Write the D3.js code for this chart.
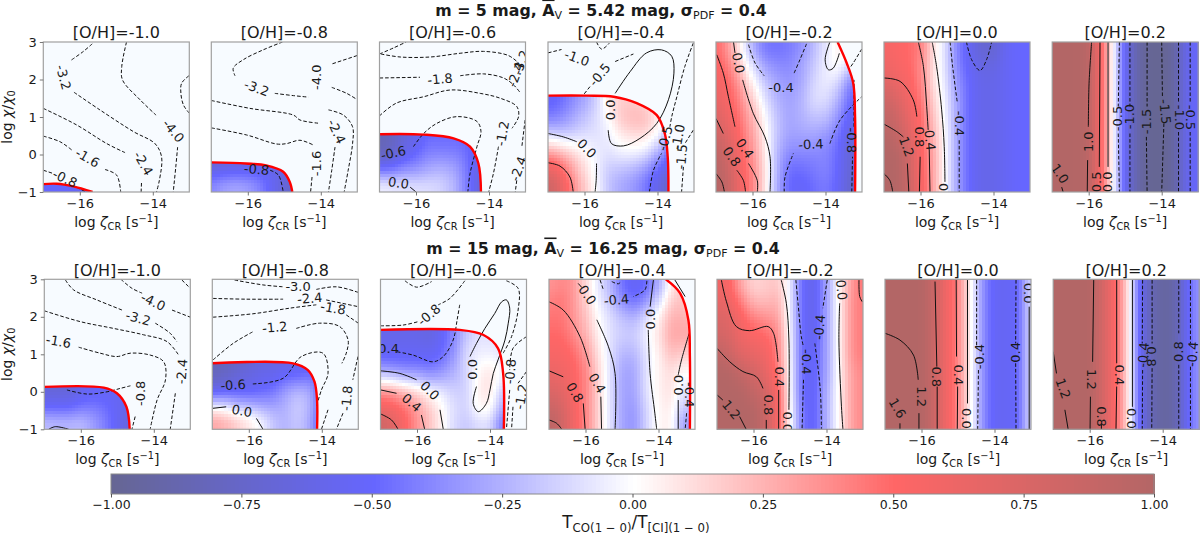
<!DOCTYPE html>
<html><head><meta charset="utf-8">
<script src="https://d3js.org/d3.v7.min.js"></script>
<style>html,body{margin:0;padding:0;background:#fff}svg{display:block}text{font-family:"DejaVu Sans",sans-serif;fill:#1a1a1a}</style>
</head><body><svg id="c" width="1200" height="535"></svg>
<script>
const _=null;
// Axis values
const xDomain=[-17,-13], yDomain=[-1,3];
const xTicks=[-16,-14], yTicks=[-1,0,1,2,3];
const barTicks=[-1,-0.75,-0.5,-0.25,0,0.25,0.5,0.75,1];
const metallicity=["-1.0","-0.8","-0.6","-0.4","-0.2","0.0","0.2"];
// Ratio fields: rows y=3..-1 (step .5), columns x=-17..-13 (step 1/3)
const f5_m10=[[],[],[],[],[],[],[],[],[-.5,-.5,-.5,-.55,-.6,-.6]];
const f5_m08=[[],[],[],[],[],[],
[-.85,-.8,-.75,-.75,-.75,-.75,-.75,-.8],
[-.55,-.5,-.5,-.5,-.5,-.55,-.6,-.7],
[-.3,-.2,-.15,-.2,-.35,-.55,-.75,-.8]];
const f5_m06=[[],[],[],[],[],
[-.85,-.8,-.7,-.6,-.5,-.5,-.5,-.5,-.55,-.6],
[-.85,-.75,-.6,-.5,-.4,-.4,-.4,-.45,-.6,-.7],
[-.35,-.35,-.3,-.3,-.25,-.2,-.25,-.4,-.6,-.8,-.9],
[.15,.1,.05,.02,-.02,-.1,-.2,-.4,-.6,-.8,-.95]];
const f5_m04=[[],[],[],
[-.55,-.5,-.4,-.3,-.15,.1,.15,.15,.1,0,-.1],
[-.45,-.4,-.3,-.2,-.1,0,.2,.25,.25,.1,-.1],
[-.1,-.15,-.15,-.1,-.1,-.05,.05,.1,.1,0,-.35,-.5],
[.4,.3,.18,.05,-.05,-.1,-.05,-.05,-.1,-.3,-.5,-.6],
[.75,.6,.35,.12,-.05,-.2,-.25,-.3,-.4,-.55,-.7,-.8],
[.95,.75,.45,.2,0,-.2,-.3,-.35,-.45,-.65,-.85,-.9]];
const f5_m02=[
[.5,.3,0,-.35,-.5,-.5,-.45,-.4,-.25,-.1,.05,.05],
[.55,.4,.15,-.15,-.35,-.4,-.4,-.3,-.2,-.05,.05,-.05],
[.6,.5,.3,0,-.2,-.3,-.35,-.3,-.15,-.05,-.1,-.4],
[.65,.55,.4,.15,-.1,-.25,-.3,-.25,-.1,-.1,-.25,-.5],
[.75,.6,.45,.25,0,-.2,-.3,-.25,-.2,-.2,-.35,-.55],
[.85,.7,.5,.3,.05,-.2,-.3,-.3,-.3,-.35,-.45,-.65],
[.95,.8,.55,.35,.08,-.25,-.4,-.4,-.4,-.4,-.5,-.7],
[1,.85,.6,.4,.1,-.25,-.5,-.5,-.45,-.4,-.5,-.7],
[1,.9,.6,.4,.08,-.3,-.5,-.55,-.5,-.45,-.55,-.75]];
const f5_00=[
[.55,.52,.5,.45,.1,-.1,-.4,-.55,-.75,-.75,-.55,-.5,-.5],
[.6,.55,.5,.4,.1,-.1,-.4,-.55,-.65,-.65,-.55,-.5,-.5],
[.7,.6,.55,.4,.1,-.08,-.35,-.5,-.6,-.6,-.55,-.5,-.5],
[.85,.75,.6,.45,.15,-.05,-.3,-.5,-.6,-.6,-.55,-.5,-.5],
[.9,.85,.65,.5,.2,-.03,-.3,-.5,-.6,-.6,-.55,-.5,-.5],
[1,.9,.75,.5,.25,0,-.3,-.5,-.6,-.6,-.55,-.5,-.5],
[1,1,.85,.55,.3,0,-.3,-.5,-.6,-.6,-.55,-.5,-.5],
[1,1,.85,.55,.3,0,-.3,-.5,-.6,-.6,-.55,-.5,-.5],
[1,1,.9,.6,.3,0,-.3,-.5,-.6,-.6,-.55,-.5,-.5]];
const f5_02=[
[1,1,1,.95,.55,0,-.55,-.9,-1,-1,-.95,-.6,-.5],
[1,1,1,.95,.55,0,-.55,-.9,-1,-1,-.95,-.6,-.5],
[1,1,1,.95,.55,0,-.55,-.9,-1,-1,-.95,-.6,-.5],
[1,1,1,.95,.55,0,-.55,-.9,-1,-1,-.95,-.6,-.5],
[1,1,1,.95,.55,0,-.55,-.9,-1,-1,-.95,-.6,-.5],
[1,1,1,.95,.55,0,-.55,-.9,-1,-1,-.95,-.6,-.5],
[1,1,1,.95,.55,0,-.55,-.9,-1,-1,-.95,-.6,-.5],
[1,1,1,.95,.55,0,-.55,-.9,-1,-1,-.95,-.6,-.5],
[1,1,1,.95,.55,0,-.55,-.9,-1,-1,-.95,-.6,-.5]];
const f15_m10=[[],[],[],[],[],[],
[-.7,-.7,-.7,-.6,-.55,-.55,-.55,-.6],
[-.45,-.45,-.45,-.4,-.4,-.45,-.55,-.6],
[-.05,-.1,-.1,-.1,-.25,-.4,-.55,-.7]];
const f15_m08=[[],[],[],[],
[-.85,-.85,-.8,-.75,-.7,-.65,-.65,-.65,-.6,-.55],
[-.85,-.8,-.7,-.65,-.6,-.6,-.55,-.55,-.5,-.55],
[-.6,-.55,-.55,-.55,-.5,-.45,-.3,-.2,-.25,-.55],
[.15,.1,-.05,-.1,-.2,-.25,-.25,-.15,-.25,-.55],
[.4,.35,.3,.2,.1,-.15,-.25,-.2,-.3,-.65]];
const f15_m06=[[],[],[],
[-.6,-.6,-.6,-.6,-.65,-.55,-.4,-.2,-.1,-.1],
[-.55,-.55,-.55,-.55,-.55,-.5,-.35,-.1,-.05,-.05,-.1],
[-.25,-.3,-.35,-.35,-.4,-.35,-.25,-.15,.03,.1,0],
[.4,.35,.25,.15,.02,-.05,-.15,-.15,.05,.1,-.2],
[.65,.6,.5,.35,.2,.05,-.1,-.15,.02,.02,-.3],
[1,.75,.55,.35,.2,.05,-.15,-.2,-.2,-.2,-.55]];
const f15_m04=[
[.3,.35,.35,.1,-.1,-.25,-.5,-.6,-.55,-.35,0,.2],
[.4,.45,.35,.15,-.05,-.2,-.4,-.5,-.4,-.15,.15,.2,0],
[.45,.45,.35,.2,0,-.1,-.2,-.25,-.1,.05,.25,.25],
[.5,.5,.4,.25,.05,-.1,-.15,-.15,-.05,.1,.3,.3],
[.55,.55,.5,.35,.1,-.1,-.25,-.25,-.1,.05,.2,.15],
[.65,.6,.55,.4,.15,-.1,-.3,-.3,-.1,.05,.1,0],
[.75,.7,.55,.4,.15,-.1,-.3,-.3,-.1,.05,.1,-.1],
[.9,.8,.6,.4,.15,-.1,-.3,-.35,-.15,.03,.05,-.2],
[1,.85,.6,.4,.15,-.1,-.3,-.35,-.15,.03,.05,-.4]];
const f15_m02=[
[.6,.5,.2,.1,.15,.15,-.05,-.5,-.6,-.3,.02,.3,.5],
[.65,.6,.4,.2,.2,.25,-.05,-.5,-.6,-.3,.03,.35,.45],
[.75,.7,.55,.4,.35,.3,-.05,-.5,-.6,-.3,.03,.35,.45],
[.8,.75,.6,.55,.5,.4,-.02,-.5,-.6,-.3,.03,.35,.45],
[.95,.85,.7,.65,.6,.4,-.02,-.5,-.55,-.3,.03,.35,.45],
[1,1,.9,.8,.65,.45,0,-.5,-.55,-.3,.03,.3,.4],
[1,1,1,.9,.8,.55,0,-.5,-.55,-.25,.03,.3,.4],
[1,1,1,1,.85,.55,.02,-.45,-.55,-.25,.03,.3,.4],
[1,1,1,1,.85,.55,.02,-.45,-.55,-.25,.03,.3,.4]];
const f15_00=[
[1,1,1,1,.85,.6,.4,.05,-.35,-.55,-.55,-.5,-.05],
[1,1,1,1,.85,.6,.4,.05,-.35,-.55,-.55,-.5,-.05],
[1,1,1,1,.85,.6,.4,.05,-.35,-.55,-.55,-.5,-.05],
[1,1,1,1,.85,.6,.4,.05,-.35,-.55,-.55,-.5,-.05],
[1,1,1,1,.85,.6,.4,.05,-.35,-.55,-.55,-.5,-.05],
[1,1,1,1,.85,.6,.4,.05,-.35,-.55,-.55,-.5,-.05],
[1,1,1,1,.85,.6,.4,.05,-.35,-.55,-.55,-.5,-.05],
[1,1,1,1,.85,.6,.4,.05,-.35,-.55,-.55,-.5,-.05],
[1,1,1,1,.85,.6,.4,.05,-.35,-.55,-.55,-.5,-.05]];
const f15_02=[
[1,1,1,1,.8,.55,.2,-.45,-.85,-.95,-.9,-.55,-.3],
[1,1,1,1,.8,.55,.2,-.45,-.85,-.95,-.9,-.55,-.3],
[1,1,1,1,.8,.55,.2,-.45,-.85,-.95,-.9,-.55,-.3],
[1,1,1,1,.8,.55,.2,-.45,-.85,-.95,-.9,-.55,-.3],
[1,1,1,1,.8,.55,.2,-.45,-.85,-.95,-.9,-.55,-.3],
[1,1,1,1,.8,.55,.2,-.45,-.85,-.95,-.9,-.55,-.3],
[1,1,1,1,.8,.55,.2,-.45,-.85,-.95,-.9,-.55,-.3],
[1,1,1,1,.8,.55,.2,-.45,-.85,-.95,-.9,-.55,-.3],
[1,1,1,1,.8,.55,.2,-.45,-.85,-.95,-.9,-.55,-.3]];
// Red boundary curves (log zeta, log chi pairs)
const r5_m10=[-17,-.79,-16.63,-.78,-16.18,-.85,-15.65,-1];
const r5_m08=[-17,-.21,-16.05,-.24,-15.5,-.29,-15.03,-.46,-14.85,-.73,-14.78,-1];
const r5_m06=[-17,.54,-15.79,.53,-14.97,.43,-14.52,.21,-14.29,-.24,-14.22,-1];
const r5_m04=[-17,1.57,-15.94,1.57,-15.2,1.54,-14.57,1.37,-14.02,1.05,-13.8,.56,-13.72,-.06,-13.7,-1];
const r5_m02=[-13.67,3,-13.42,2.44,-13.24,1.9,-13.19,1.01,-13.19,-1];
const r15_m10=[-17,.13,-15.37,.11,-15.01,-.04,-14.75,-.4,-14.66,-1];
const r15_m08=[-17,.76,-14.79,.76,-14.38,.58,-14.2,.27,-14.13,-.22,-14.13,-1];
const r15_m06=[-17,1.65,-14.83,1.65,-14.19,1.52,-13.78,1.16,-13.64,.49,-13.62,-1];
const r15_m04=[-13.8,3,-13.41,2.63,-13.18,1.91,-13.14,.94,-13.14,-1];
// Contours: [level, flat x,y list]
const c5_m10=[[-3.2,[-15.66,2.95,-15.9,2.75,-16.23,2.52]],[-3.2,[-16.16,1.66,-15.45,1.19,-14.53,.61,-13.94,.29,-13.76,-.06,-13.82,-.69,-13.9,-1]],[-4,[-14.72,3,-14.85,2.35,-14.83,1.99,-14.35,1.46,-13.91,1.05]],[-4,[-13.32,.2,-13.37,-.33,-13.44,-1]],[-4,[-13.01,2.1,-13.21,1.9,-13.23,1.63,-13.16,1.32,-13,1.1]],[-2.4,[-17,1.23,-16.09,.79,-15.26,.29,-14.76,.05]],[-2.4,[-14.31,-.76,-14.32,-1]],[-1.6,[-17,.49,-16.54,.34,-16.22,.12]],[-1.6,[-15.31,-.4,-14.99,-.55,-14.88,-1]],[-.8,[-17,-.42,-16.75,-.5]],[-.8,[-16.09,-.87,-15.83,-1]]];
const c5_m08=[[-3.2,[-15.05,3,-15.58,2.79,-16.12,2.53,-16.4,2.3,-16.35,2.1]],[-3.2,[-15.26,1.63,-14.75,1.57,-14.34,1.53]],[-4,[-13.68,2.42,-13,2.64]],[-4,[-13.7,1.79,-13.29,1.63,-13,1.46]],[-2.4,[-17,1.44,-15.94,1.23,-14.75,1.05,-14.57,.92,-14.02,.83]],[-2.4,[-13.79,1.19,-13.38,1.05,-13.13,.74,-13.13,.29,-13.25,-.42,-13.36,-1]],[-1.6,[-17,.71,-16.03,.52,-15.21,.28,-14.94,.29,-14.57,.38,-14.2,.25]],[-1.6,[-14.24,-.6,-14.28,-1]],[-2.4,[-13.61,.2,-13.7,-.42,-13.79,-1]],[-.8,[-15.39,-.42,-15.16,-.55,-15.03,-1]]];
const c5_m06=[[-3.2,[-17,2.68,-16.62,2.84,-16.27,3]],[-2.4,[-16.96,2.68,-16.43,2.6,-15.61,2.6,-14.79,2.7,-14.15,2.75,-13.47,2.64,-13.19,2.44]],[-1.8,[-17,2.04,-15.89,2.06]],[-1.8,[-14.79,2.1,-14.15,2.15,-13.6,2.04,-13.33,1.86,-13.13,1.63]],[-1.2,[-17,1.03,-16.54,1.37,-15.79,1.54,-15.06,1.72,-14.24,1.63,-13.69,1.5,-13.24,1.28,-13.19,1.01,-13.37,.7]],[-1.2,[-13.74,.21,-13.88,-.51,-14.01,-1]],[-.6,[-16.07,.21,-15.79,.56,-15.43,.83,-14.88,1.01,-14.33,.88,-14.22,.61,-14.33,.21,-14.52,-.51,-14.58,-1]],[-2.4,[-13.24,-.69,-13.28,-1]],[-2.4,[-13.01,.92,-13.1,.21]],[0,[-16.16,-.87,-16,-1]]];
const c5_m04=[[0,[-15.16,1.63,-14.75,2.21,-14.3,2.71,-13.89,2.79,-13.61,2.62,-13.55,2.17,-13.7,1.46,-14.02,.83,-14.48,.43,-14.93,.23,-15.26,.29,-15.35,.65]],[0,[-17,.56,-16.58,.47,-16.21,.34]],[0,[-15.67,-.24,-15.68,-.69,-15.71,-1]],[.4,[-17,-.22,-16.67,-.31,-16.4,-.6,-16.31,-1]],[-1,[-17,2.71,-16.63,2.8]],[-1,[-15.67,3,-15.53,2.81,-15.32,2.97]],[-.5,[-15.16,2.48,-14.66,2.68]],[-.5,[-15.85,1.81,-16.03,1.59]],[-1,[-13.02,2.97,-13.25,2.35,-13.47,1.54,-13.61,1.01,-13.66,.74]],[-1.5,[-13.02,.65,-13.25,.29]],[-1.5,[-13.29,-.33,-13.34,-1]],[-.5,[-14.22,-1,-14.11,-.42,-13.89,.03]]];
const c5_m02=[[0,[-16.52,3,-16.48,2.71]],[0,[-16.27,1.99,-15.98,1.1,-15.66,.47,-15.52,-.06,-15.52,-1]],[.4,[-16.98,2.66,-16.8,2.17,-16.66,1.54,-16.48,.74]],[.4,[-16.11,-.24,-15.87,-.69,-15.87,-1]],[.8,[-17,.96,-16.8,.56]],[.8,[-16.43,-.42,-16.25,-.69,-16.19,-1]],[1.2,[-17,-.51,-16.84,-.73,-16.77,-1]],[0,[-13.88,3,-14.01,2.53,-13.92,2.26,-13.79,2.3,-13.62,2.7]],[-.4,[-16.11,2.93,-15.93,2.44,-15.68,2.1]],[-.4,[-14.52,2.95,-14.7,2.53,-14.86,2.17]],[-.4,[-15.13,-1,-15.11,-.6,-14.88,.03]],[-.4,[-13.88,.29,-13.6,.92,-13.01,1.54]],[-.4,[-13.01,2.81,-13.24,2.44,-13.37,2.26]],[-.8,[-13.28,-1,-13.26,-.06]],[-.8,[-13.22,.74,-13.22,1.99]]];
const c5_00=[[0,[-15.68,3,-15.56,2.35,-15.42,1.19,-15.35,.21,-15.33,-.73]],[.4,[-16.06,3,-15.92,2.35,-15.83,1.28,-15.79,.65]],[.4,[-15.76,.12,-15.74,-1]],[.8,[-17,2.04,-16.56,1.95,-16.2,1.46,-16.1,1.01]],[.8,[-16.01,-.06,-16.03,-1]],[1.2,[-17,.81,-16.65,.61,-16.47,.47]],[1.2,[-16.36,-.24,-16.32,-1]],[1.6,[-17,-.51,-16.84,-.69,-16.76,-1]],[-.4,[-15.19,3,-15.12,2.35,-14.99,1.37]],[-.4,[-14.94,.38,-14.94,-1]],[-.8,[-14.74,3,-14.6,2.53,-14.37,2.24,-14.19,2.53,-14.05,3]]];
const c5_02=[[1,[-15.92,3,-15.99,1.9,-16.01,.74]],[1,[-16.03,-.15,-16.04,-1]],[.5,[-15.69,3,-15.71,-.33]],[0,[-15.47,3,-15.47,-.33]],[1,[-16.74,-.87,-16.7,-1]],[-.5,[-15.16,3,-15.19,1.28]],[-.5,[-15.19,.56,-15.16,-1]],[-1,[-14.87,3,-14.87,1.28]],[-1,[-14.87,.56,-14.87,-1]],[-1.5,[-14.4,3,-14.4,1.28]],[-1.5,[-14.42,.47,-14.4,-1]],[-1.5,[-14,3,-13.98,1.54]],[-1.5,[-13.94,.83,-14,-1]],[-1,[-13.54,3,-13.54,1.4]],[-1,[-13.54,.6,-13.54,-1]],[-.5,[-13.22,3,-13.22,1.4]],[-.5,[-13.22,.6,-13.22,-1]]];
const c15_m10=[[-4,[-14.9,3,-14.6,2.76,-14.32,2.63]],[-4,[-13.5,2.18,-13,1.99]],[-4,[-13.23,2.98,-13,2.76]],[-3.2,[-16.42,2.98,-16.2,2.72,-15.56,2.45,-14.87,2.18]],[-3.2,[-13.96,1.83,-13.55,1.56,-13.37,1.34]],[-2.4,[-17,2.16,-16.01,1.87,-15.1,1.69,-14.28,1.52,-13.64,1.34,-13.32,.98]],[-2.4,[-13.41,-.04,-13.55,-1]],[-1.6,[-16.06,1.19,-15.47,1.03,-15.01,.94,-14.64,1.03,-14.1,.98,-13.73,.8,-13.68,.32,-13.91,-.22,-14.1,-1]],[-.8,[-16.38,.05,-15.83,-.06,-15.28,0,-14.92,.09,-14.64,.16]],[-.8,[-14.51,-.66,-14.6,-1]],[0,[-16.88,-1,-16.7,-.93,-16.33,-1]]];
const c15_m08=[[-3,[-16.39,2.98,-15.61,2.85,-15.06,2.8]],[-3,[-14.15,2.73,-13.6,2.8,-13,2.65]],[-2.4,[-16.98,2.49,-16.07,2.47,-15.06,2.47]],[-2.4,[-13.88,2.45,-13,2.27]],[-1.8,[-16.98,1.99,-15.89,2.08,-14.88,2.23,-14.15,2.32]],[-1.8,[-13.33,2.05,-13,1.83]],[-1.2,[-16.98,.85,-16.43,1.29,-15.89,1.6]],[-1.2,[-14.7,1.69,-14.06,1.83,-13.51,1.74,-13.28,1.38,-13.33,1.03,-13.45,.76]],[-1.8,[-13.01,.94,-13.15,.32]],[-1.8,[-13.42,-.57,-13.6,-1]],[-.6,[-15.89,.21,-15.06,.36,-14.56,.94,-13.97,1.03,-13.83,.49,-14.01,.05,-14.15,-.4]],[0,[-16.98,-.44,-16.62,-.4]],[0,[-15.79,-.71,-15.61,-1]],[-1.2,[-13.83,-.48,-14.01,-1]]];
const c15_m06=[[-1.6,[-16.33,2.96,-16.01,2.79,-15.6,2.94]],[-.8,[-14.69,2.96,-15.1,2.49,-15.42,2.32]],[-.8,[-17,1.76,-16.38,1.78,-15.97,1.87]],[-.4,[-14.83,2.32,-14.9,1.92,-15.01,1.38,-15.28,.94,-15.56,.8,-16.11,.98,-16.56,1.07]],[-.8,[-13.55,2.96,-13.23,2.76,-13.23,2.18,-13.41,1.47,-13.64,1.03]],[-.8,[-13,1.47,-13.37,1.16,-13.46,.58]],[-1.2,[-13,.54,-13.23,.23]],[-1.2,[-13.37,-.4,-13.41,-1]],[-.8,[-13.46,.05,-13.55,-1]],[0,[-14.37,.14,-14.46,-.31,-14.32,-.53,-14.1,-.31,-14,.05,-13.91,.49,-13.78,.85,-13.59,1.38,-13.5,1.83,-13.46,2.23,-13.55,2.45,-13.68,2.4,-13.87,2.09,-14.14,1.69,-14.37,1.29,-14.55,.94]],[0,[-17,.56,-16.47,.49,-16.01,.32]],[0,[-15.37,-.48,-15.28,-1]],[.4,[-17,.05,-16.56,-.04]],[.4,[-15.88,-.62,-15.79,-1]],[.8,[-17,-.59,-16.7,-.75,-16.52,-1]]];
const c15_m04=[[0,[-16.2,2.89,-16.1,2.78]],[0,[-15.69,1.92,-15.37,1.2,-15.19,.49,-15.19,-1]],[.4,[-17,2.4,-16.61,2.18,-16.15,1.47,-15.88,.67]],[.4,[-15.58,-.13,-15.56,-1]],[.8,[-17,.56,-16.61,.4]],[.8,[-16.06,-.31,-16.01,-1]],[1.2,[-17,-.75,-16.79,-.84,-16.65,-1]],[0,[-14.14,2.98,-14.23,2.27]],[0,[-14.28,1.65,-14.23,.49,-14.1,-.57,-14.05,-1]],[0,[-13.16,1.56,-13.37,.85,-13.46,.45]],[0,[-13.46,-.22,-13.46,-1]],[0,[-13.55,2.98,-13.27,2.54]],[-.4,[-15.6,2.98,-15.51,2.72]],[-.8,[-15.28,2.94,-15.1,2.88,-15.01,2.96]],[-.4,[-14.32,2.96,-14.37,2.72,-14.69,2.54]],[-.4,[-13.23,-.57,-13.27,-1]]];
const c15_m02=[[0,[-15.24,2.98,-15.1,2.36,-15.03,1.38,-15.03,-.48]],[.4,[-16.88,2.98,-16.74,2.4,-16.47,1.74,-16.11,1.63,-15.6,1.74,-15.45,1.56,-15.33,.8]],[.4,[-15.31,.05,-15.31,-1]],[.8,[-17,1.16,-16.65,.8,-16.29,.54,-15.92,.4,-15.74,.09]],[.8,[-15.65,-.75,-15.65,-1]],[1.2,[-17,-.08,-16.84,-.22]],[1.2,[-16.38,-.66,-16.2,-1]],[0,[-13.64,2.36,-13.66,1.38,-13.59,-.4,-13.55,-1]],[.4,[-13.11,2.98,-13.09,2.54,-13.02,2.4]],[-.4,[-14.84,2.98,-14.78,2.36,-14.69,1.47,-14.63,1.2]],[-.4,[-14.63,.32,-14.67,-1]],[-.4,[-13.98,2.98,-14.1,2.23]],[-.4,[-14.32,1.29,-14.17,.05,-14.14,-1]]];
const c15_00=[[.8,[-15.63,2.94,-15.58,.67]],[.8,[-15.57,.14,-15.57,-1]],[.4,[-15.05,2.98,-15.04,.94]],[.4,[-15.01,.14,-15.02,-1]],[0,[-14.74,2.98,-14.74,-.31]],[0,[-13.05,2.27,-13.05,-1]],[1.2,[-17,1.56,-16.59,1.38,-16.22,.98,-16.09,.32]],[1.2,[-16.07,-.57,-16.07,-1]],[1.6,[-16.59,-.84,-16.59,-1]],[-.4,[-14.49,2.98,-14.49,1.2]],[-.4,[-14.44,.58,-14.46,-1]],[-.4,[-13.41,2.98,-13.42,1.29]],[-.4,[-13.42,.76,-13.41,-1]]];
const c15_02=[[1.2,[-15.89,2.98,-15.92,.8]],[1.2,[-15.98,-.13,-15.99,-1]],[.8,[-15.68,-.84,-15.68,-1]],[.4,[-15.26,2.98,-15.26,.76]],[.4,[-15.26,.14,-15.28,-1]],[1.2,[-17,1.07,-16.91,.49]],[1.2,[-16.68,-.48,-16.59,-1]],[0,[-14.83,2.98,-14.83,-.4]],[-.4,[-14.55,2.98,-14.56,1.29]],[-.4,[-14.55,.58,-14.56,-1]],[-.8,[-14.29,2.98,-14.29,1.29]],[-.8,[-14.29,.63,-14.3,-1]],[-.8,[-13.56,2.98,-13.56,1.56]],[-.8,[-13.56,.72,-13.56,-1]],[-.4,[-13.24,2.98,-13.24,1.29]],[-.4,[-13.24,.67,-13.24,-1]]];
// Contour labels: [text, x, y, angle]
const l5_m10=[["-3.2",-16.45,2.06,75],["-4.0",-13.44,.63,50],["-2.4",-14.26,-.24,60],["-1.6",-15.79,-.09,30],["-0.8",-16.41,-.64,25]];
const l5_m08=[["-3.2",-15.76,1.77,20],["-4.0",-14.13,2.06,-90],["-2.4",-13.57,.61,65],["-1.6",-14.13,-.24,-90],["-0.8",-15.76,-.4,5]];
const l5_m06=[["-1.8",-15.34,2.01,-5],["-1.2",-13.63,.56,-80],["-2.4",-13.19,-.38,-70],["-0.6",-16.62,.04,-12],["0.0",-16.48,-.76,8],["-2.4",-13.27,2.13,-70],["-3.2",-13.12,2.45,-70]];
const l5_m04=[["0.0",-15.3,1.19,-90],["0.0",-15.94,.16,45],["-1.0",-16.21,2.57,20],["-0.5",-15.58,2.13,-50],["-0.5",-13.79,.43,-75],["-1.0",-13.43,.47,-80],["-1.5",-13.34,-.06,-85]];
const l5_m02=[["0.0",-16.39,2.44,80],["0.4",-16.21,.16,55],["0.8",-16.57,-.06,55],["-0.4",-15.22,1.79,0],["-0.4",-14.4,.27,-3],["-0.8",-13.28,.38,90]];
const l5_00=[["0",-15.37,-.87,-90],["0.4",-15.74,.38,85],["0.8",-16.03,.47,90],["1.2",-16.38,.21,70],["-0.4",-14.92,.83,90]];
const l5_02=[["1.0",-16.01,.34,-90],["0.5",-15.79,-.73,-90],["0.0",-15.49,-.73,-90],["1.0",-16.79,-.51,55],["-0.5",-15.21,.96,-90],["-1.0",-14.87,1.01,-90],["-1.5",-14.42,.88,-90],["-1.5",-13.91,1.14,85],["-1.0",-13.52,.99,90],["-0.5",-13.2,.99,90]];
const l15_m10=[["-4.0",-14.02,2.4,25],["-3.2",-14.43,1.96,15],["-2.4",-13.23,.54,-85],["-1.6",-16.61,1.34,10],["-0.8",-14.37,-.04,-90]];
const l15_m08=[["-3.0",-14.65,2.82,0],["-2.4",-14.33,2.49,-5],["-1.8",-13.69,2.23,10],["-1.2",-15.29,1.72,-5],["-1.8",-13.31,-.17,-85],["-0.6",-16.43,.18,-3],["0.0",-16.19,-.51,10]];
const l15_m06=[["-0.8",-15.67,2.05,-40],["-0.4",-16.84,1.16,0],["0.0",-14.48,.6,-90],["0.0",-15.65,.03,45],["0.4",-16.15,-.29,40],["-0.8",-13.44,.54,-85],["-1.2",-13.14,-.13,-80]];
const l15_m04=[["0.0",-15.95,2.58,55],["0.4",-15.68,.23,60],["0.8",-16.29,-.02,60],["0.0",-14.23,1.94,-90],["0.0",-13.44,.18,-90],["-0.4",-15.15,2.45,-5],["-0.4",-13.16,-.08,90]];
const l15_m02=[["0.0",-15.08,-.8,90],["0.4",-15.28,.4,90],["0.8",-15.6,-.35,90],["1.2",-16.61,-.48,50],["0.0",-13.59,2.72,85],["-0.4",-14.55,.8,90],["-0.4",-14.19,1.72,-85]];
const l15_00=[["0.8",-15.58,.4,90],["0.4",-14.99,.45,90],["0.0",-14.78,-.71,90],["0.0",-13.07,2.63,90],["1.2",-16.01,-.13,90],["1.6",-16.66,-.44,60],["-0.4",-14.42,.94,-90],["0.4",-13.42,1.05,-90]];
const l15_02=[["1.2",-15.95,.33,90],["0.8",-15.68,-.66,90],["0.4",-15.19,.45,90],["1.2",-16.73,.09,70],["0.0",-14.85,-.71,90],["-0.4",-14.53,.98,-85],["0.8",-14.32,.94,90],["0.8",-13.58,1.07,-90],["-0.4",-13.18,1,-85]];

const rows=[
 {fields:[f5_m10,f5_m08,f5_m06,f5_m04,f5_m02,f5_00,f5_02],cont:[c5_m10,c5_m08,c5_m06,c5_m04,c5_m02,c5_00,c5_02],labs:[l5_m10,l5_m08,l5_m06,l5_m04,l5_m02,l5_00,l5_02],red:[r5_m10,r5_m08,r5_m06,r5_m04,r5_m02,null,null]},
 {fields:[f15_m10,f15_m08,f15_m06,f15_m04,f15_m02,f15_00,f15_02],cont:[c15_m10,c15_m08,c15_m06,c15_m04,c15_m02,c15_00,c15_02],labs:[l15_m10,l15_m08,l15_m06,l15_m04,l15_m02,l15_00,l15_02],red:[r15_m10,r15_m08,r15_m06,r15_m04,null,null,null]}];

const color=d3.scaleLinear().domain([-1,-.5,0,.5,1]).range(["#666694","#6666ff","#ffffff","#ff6666","#b36666"]).clamp(true);
const svg=d3.select("#c");
const panelW=146,panelH=150,tops=[42,279.3],lefts=[43.3,211.3,379.5,548,716,884,1052.2],rowShift=[0,1];
const pairs=f=>{const p=[];for(let i=0;i<f.length;i+=2)p.push([f[i],f[i+1]]);return p;};
function sample(g,x,y){
  const fx=(x+17)*3,fy=(3-y)*2,i=Math.min(Math.floor(fx),11),j=Math.min(Math.floor(fy),7),tx=fx-i,ty=fy-j;
  const cs=[[j,i,(1-tx)*(1-ty)],[j,i+1,tx*(1-ty)],[j+1,i,(1-tx)*ty],[j+1,i+1,tx*ty]];
  let s=0,w=0;cs.forEach(([a,b,k])=>{const v=g[a][b];if(v!=null&&k>0){s+=v*k;w+=k;}});
  return w>0?s/w:null;
}
// Light box smoothing of the resampled field on its render grid
function smooth(m,rx,ry){
  const n=m.length;
  return m.map((col,a)=>col.map((v,b)=>{
    if(v==null)return null;
    let s=0,w=0;
    for(let p=Math.max(0,a-rx);p<=Math.min(n-1,a+rx);p++)for(let q=Math.max(0,b-ry);q<=Math.min(n-1,b+ry);q++){
      const u=m[p][q];if(u!=null){s+=u;w++;}
    }
    return s/w;
  }));
}
function rich(parent,x,y,parts,o={}){
  const t=parent.append("text").attr("x",x).attr("y",y).attr("text-anchor",o.anchor||"middle").style("font-size",o.size+"px");
  if(o.rot!=null)t.attr("transform",`rotate(${o.rot},${x},${y})`);
  let off=0;
  parts.forEach(p=>{
    const target=p.sub?o.size*.22:p.sup?-o.size*.36:0;
    const ts=t.append("tspan").text(p.t).attr("dy",target-off);off=target;
    if(p.sub||p.sup)ts.style("font-size",(o.size*.7)+"px");
    if(p.it)ts.style("font-style","italic");
    ts.style("font-weight",p.b?"bold":"normal");
    if(p.over)ts.style("text-decoration","overline");
  });
  return t;
}
const grid=d3.range(48);
rows.forEach((row,ri)=>row.fields.forEach((field,ci)=>{
  const L=lefts[ci]+rowShift[ri],T=tops[ri];
  const x=d3.scaleLinear().domain(xDomain).range([L,L+panelW]);
  const y=d3.scaleLinear().domain(yDomain).range([T+panelH,T]);
  const g=svg.append("g");
  g.append("rect").attr("x",L).attr("y",T).attr("width",panelW).attr("height",panelH).attr("fill","#f7fbff");
  const id=`cp${ri}${ci}`,idA=`ca${ri}${ci}`;
  svg.append("clipPath").attr("id",idA).append("rect").attr("x",L).attr("y",T).attr("width",panelW).attr("height",panelH);
  const line=d3.line().x(d=>x(d[0])).y(d=>y(d[1])).curve(d3.curveCatmullRom.alpha(.5));
  const redPts=row.red[ci]?pairs(row.red[ci]):null;
  let m=grid.map(a=>grid.map(b=>sample(field,-17+(a+.5)/12,-1+(b+.5)/12)));
  m=smooth(smooth(m,1,3),1,2);
  const cells=[];
  grid.forEach(a=>grid.forEach(b=>{if(m[a][b]!=null)cells.push({a,b,v:m[a][b]});}));
  const heat=g.append("g");
  if(redPts){
    const tail=redPts[0][0]===-17?`L${x(-17)},${y(-1)}Z`:`L${x(-17)},${y(-1)}L${x(-17)},${y(3)}Z`;
    svg.append("clipPath").attr("id",id).append("path").attr("d",line(redPts)+tail);
    heat.attr("clip-path",`url(#${id})`);
  }
  heat.selectAll("rect").data(cells).join("rect")
    .attr("x",d=>x(-17+d.a/12)).attr("y",d=>y(-1+(d.b+1)/12))
    .attr("width",panelW/48+.4).attr("height",panelH/48+.4)
    .attr("fill",d=>color(d.v)).attr("shape-rendering","crispEdges");
  const cg=g.append("g").attr("clip-path",`url(#${idA})`);
  cg.selectAll("path.contour").data(row.cont[ci]).join("path").attr("class","contour")
    .attr("d",d=>line(pairs(d[1]))).attr("fill","none").attr("stroke","#111").attr("stroke-width",1)
    .attr("stroke-dasharray",d=>d[0]<0?"3.6,2":null);
  if(redPts)cg.append("path").attr("d",line(redPts)).attr("fill","none").attr("stroke","#ff0000").attr("stroke-width",2.4);
  cg.selectAll("text").data(row.labs[ci]).join("text")
    .attr("transform",d=>`translate(${x(d[1])},${y(d[2])}) rotate(${d[3]})`)
    .attr("text-anchor","middle").attr("dominant-baseline","central").style("font-size","13px").text(d=>d[0]);
  g.append("rect").attr("x",L).attr("y",T).attr("width",panelW).attr("height",panelH).attr("fill","none").attr("stroke","#a0a0a0").attr("stroke-width",1.2);
  const ax=g.append("g").attr("transform",`translate(0,${T+panelH})`).call(d3.axisBottom(x).tickValues(xTicks).tickSize(3.5).tickPadding(3).tickFormat(d3.format("d")));
  ax.select(".domain").remove();ax.selectAll("line").attr("stroke","#777");
  ax.selectAll("text").style("font-size","13px").style("font-family",'"DejaVu Sans"');
  rich(g,L+panelW/2,T+panelH+35,[{t:"log "},{t:"ζ",it:1},{t:"CR",sub:1},{t:" [s"},{t:"−1",sup:1},{t:"]"}],{size:14});
  rich(g,L+panelW/2,T-3.8,[{t:`[O/H]=${metallicity[ci]}`}],{size:16});
  if(ci===0){
    const ay=g.append("g").attr("transform",`translate(${L},0)`).call(d3.axisLeft(y).tickValues(yTicks).tickSize(3.5).tickPadding(3).tickFormat(d3.format("d")));
    ay.select(".domain").remove();ay.selectAll("line").attr("stroke","#777");
    ay.selectAll("text").style("font-size","13px").style("font-family",'"DejaVu Sans"');
    rich(g,12,T+panelH/2,[{t:"log "},{t:"χ",it:1},{t:"/"},{t:"χ",it:1},{t:"0",sub:1}],{size:14,rot:-90});
  }
}));
rich(svg,601,15.5,[{t:"m = 5 mag, ",b:1},{t:"A",b:1,over:1},{t:"V",sub:1},{t:" = 5.42 mag, ",b:1},{t:"σ",b:1},{t:"PDF",sub:1},{t:" = 0.4",b:1}],{size:15.8});
rich(svg,603,253.5,[{t:"m = 15 mag, ",b:1},{t:"A",b:1,over:1},{t:"V",sub:1},{t:" = 16.25 mag, ",b:1},{t:"σ",b:1},{t:"PDF",sub:1},{t:" = 0.4",b:1}],{size:15.8});
// Colour bar
const bx=d3.scaleLinear().domain([-1,1]).range([111,1154]);
const barVals=d3.range(-1,1,2/260);
svg.append("g").selectAll("rect").data(barVals).join("rect")
  .attr("x",d=>bx(d)).attr("y",474).attr("width",1043/260+.5).attr("height",20).attr("fill",d=>color(d)).attr("shape-rendering","crispEdges");
svg.append("rect").attr("x",111).attr("y",474).attr("width",1043).attr("height",20).attr("fill","none").attr("stroke","#8a8a8a").attr("stroke-width",1);
const bax=svg.append("g").attr("transform","translate(0,494)").call(d3.axisBottom(bx).tickValues(barTicks).tickSize(3.5).tickPadding(3).tickFormat(d3.format(".2f")));
bax.select(".domain").remove();bax.selectAll("line").attr("stroke","#555");
bax.selectAll("text").style("font-size","12.5px").style("font-family",'"DejaVu Sans"');
rich(svg,636,528,[{t:"T"},{t:"CO(1 − 0)",sub:1},{t:"/T"},{t:"[CI](1 − 0)",sub:1}],{size:16.8});
</script></body></html>
